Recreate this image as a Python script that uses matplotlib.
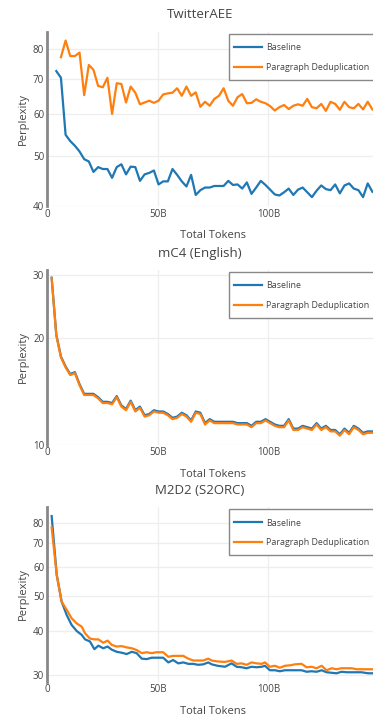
import matplotlib
matplotlib.use("Agg")
import matplotlib.pyplot as plt
from matplotlib.patches import Rectangle
from matplotlib.ticker import FixedLocator, NullLocator, FuncFormatter

plt.rcParams['font.family'] = ['Open Sans', 'DejaVu Sans']

# ---------------- data ----------------
tokens = [2.1, 4.2, 6.3, 8.4, 10.5, 12.6, 14.7, 16.8, 18.9, 21.0,
          23.1, 25.2, 27.3, 29.4, 31.5, 33.6, 35.7, 37.8, 39.9, 42.0,
          44.1, 46.2, 48.3, 50.4, 52.5, 54.6, 56.7, 58.8, 60.9, 63.0,
          65.1, 67.2, 69.3, 71.4, 73.5, 75.6, 77.7, 79.8, 81.9, 84.0,
          86.1, 88.2, 90.3, 92.4, 94.5, 96.6, 98.7, 100.8, 102.9, 105.0,
          107.1, 109.2, 111.3, 113.4, 115.5, 117.6, 119.7, 121.8, 123.9, 126.0,
          128.1, 130.2, 132.3, 134.4, 136.5, 138.6, 140.7, 142.8, 144.9, 147.0]

twitter_baseline = [72.6, 70.5, 54.8, 53.3, 52.2, 50.9, 49.2, 48.7, 46.5, 47.5,
                    47.1, 47.1, 45.3, 47.5, 48.1, 46.0, 47.6, 47.5, 44.7, 46.0,
                    46.3, 46.8, 44.0, 44.6, 44.6, 47.1, 45.9, 44.6, 43.6, 45.9,
                    42.0, 42.9, 43.4, 43.4, 43.7, 43.7, 43.7, 44.7, 43.9, 44.0,
                    43.2, 44.4, 42.2, 43.4, 44.7, 43.9, 43.0, 42.1, 41.9, 42.5,
                    43.2, 42.0, 43.0, 43.4, 42.5, 41.6, 42.8, 43.8, 43.1, 42.9,
                    44.0, 42.3, 43.8, 44.2, 43.2, 42.9, 41.6, 44.2, 42.6]
twitter_dedup = [77.2, 83.1, 77.6, 77.6, 78.8, 65.3, 74.6, 73.0, 68.0, 67.6,
                 70.5, 60.1, 68.8, 68.6, 63.2, 67.8, 66.0, 62.7, 63.2, 63.7,
                 63.1, 63.7, 65.5, 65.8, 66.0, 67.3, 65.1, 67.8, 65.1, 66.1,
                 62.0, 63.4, 62.3, 64.2, 65.1, 67.3, 63.7, 62.3, 64.7, 65.6,
                 63.0, 63.1, 64.1, 63.4, 63.0, 62.2, 61.0, 61.9, 62.5, 61.4,
                 62.3, 62.7, 62.3, 64.2, 61.9, 61.6, 62.8, 60.9, 63.4, 62.8,
                 61.2, 63.4, 61.9, 61.6, 62.8, 61.3, 63.4, 61.3]

mc4_baseline = [29.5, 20.4, 17.7, 16.6, 15.8, 16.0, 14.8, 13.9, 13.9, 13.9,
                13.6, 13.2, 13.2, 13.1, 13.7, 12.9, 12.6, 13.3, 12.5, 12.8,
                12.1, 12.2, 12.5, 12.4, 12.4, 12.2, 11.9, 12.0, 12.3, 12.1,
                11.7, 12.4, 12.3, 11.5, 11.8, 11.6, 11.6, 11.6, 11.6, 11.6,
                11.5, 11.5, 11.5, 11.3, 11.6, 11.6, 11.8, 11.6, 11.4, 11.3,
                11.3, 11.8, 11.1, 11.1, 11.3, 11.2, 11.1, 11.5, 11.1, 11.3,
                11.0, 11.0, 10.7, 11.1, 10.8, 11.3, 11.1, 10.8, 10.9, 10.9]
mc4_dedup = [29.4, 20.3, 17.6, 16.5, 15.7, 15.9, 14.7, 13.8, 13.8, 13.8,
             13.5, 13.1, 13.1, 13.0, 13.6, 12.8, 12.5, 13.2, 12.4, 12.7,
             12.0, 12.1, 12.4, 12.3, 12.3, 12.1, 11.8, 11.9, 12.2, 12.0,
             11.6, 12.3, 12.2, 11.4, 11.7, 11.5, 11.5, 11.5, 11.5, 11.5,
             11.4, 11.4, 11.4, 11.2, 11.5, 11.5, 11.7, 11.5, 11.3, 11.2,
             11.2, 11.7, 11.0, 11.0, 11.2, 11.1, 11.0, 11.4, 11.0, 11.2,
             10.9, 10.9, 10.6, 11.0, 10.7, 11.2, 11.0, 10.7, 10.8, 10.8]

m2d2_tokens = [2.1, 4.4, 6.6, 8.9, 11.1, 13.4, 15.7, 17.2, 19.4, 21.4,
               23.2, 25.4, 27.4, 29.2, 31.5, 33.7, 36.0, 38.3, 40.5, 42.8,
               45.0, 47.3, 49.5, 52.5, 54.8, 57.0, 59.3, 61.6, 63.8, 66.1,
               68.3, 70.6, 72.9, 74.4, 77.1, 80.4, 83.4, 85.7, 87.9, 90.2,
               92.4, 94.7, 97.0, 98.5, 100.7, 103.0, 105.2, 107.5, 109.8, 112.0,
               115.0, 117.3, 119.5, 121.8, 124.1, 126.3, 128.6, 130.8, 133.1, 135.4,
               137.6, 139.9, 142.1, 145.1, 147.0]
m2d2_baseline = [83.5, 57.2, 48.2, 44.2, 41.5, 39.9, 38.9, 37.8, 37.3, 35.5,
                 36.3, 35.7, 36.1, 35.4, 34.9, 34.7, 34.4, 34.9, 34.6, 33.4,
                 33.3, 33.6, 33.6, 33.6, 32.6, 33.1, 32.4, 32.6, 32.3, 32.3,
                 32.1, 32.2, 32.6, 32.2, 31.9, 31.7, 32.4, 31.7, 31.6, 31.4,
                 31.7, 31.6, 31.7, 31.9, 31.0, 31.0, 30.8, 31.0, 31.0, 31.0,
                 31.0, 30.7, 30.8, 30.7, 31.0, 30.6, 30.5, 30.4, 30.7, 30.6,
                 30.6, 30.6, 30.6, 30.4, 30.4]
m2d2_dedup = [77.6, 57.2, 48.2, 45.7, 43.3, 41.9, 41.0, 39.3, 38.0, 37.8,
              37.8, 37.0, 37.5, 36.5, 36.1, 36.2, 35.9, 35.7, 35.3, 34.6,
              34.8, 34.6, 34.8, 34.8, 33.8, 34.0, 34.0, 34.0, 33.4, 33.0,
              33.0, 33.0, 33.4, 33.0, 32.8, 32.7, 33.0, 32.3, 32.4, 32.1,
              32.6, 32.4, 32.3, 32.6, 31.7, 31.9, 31.5, 31.9, 32.0, 32.2,
              32.3, 31.6, 31.7, 31.4, 31.9, 31.0, 31.4, 31.2, 31.4, 31.4,
              31.4, 31.2, 31.2, 31.2, 31.2]

titles = ["TwitterAEE", "mC4 (English)", "M2D2 (S2ORC)"]
series_names = ["Baseline", "Paragraph Deduplication"]
x_ticks = [0, 50, 100]
x_ticklabels = ["0", "50B", "100B"]
y_ticks = [[40, 50, 60, 70, 80], [10, 20, 30], [30, 40, 50, 60, 70, 80]]
y_ranges = [(40, 86.3), (10, 31.0), (28.8, 88.5)]

# ---------------- layout ----------------
W, H = 373, 717
fig = plt.figure(figsize=(W / 100, H / 100), dpi=100)
BLUE, ORANGE = '#1f77b4', '#ff7f0e'
TXT = '#444444'

left_px, right_px = 47, 379
panels_px = [(32, 206), (270, 444.7), (507, 681.7)]
title_y_px = [15, 253, 491]

data = [
    ((tokens[1:], twitter_baseline), (tokens[2:], twitter_dedup)),
    ((tokens, mc4_baseline), (tokens, mc4_dedup)),
    ((m2d2_tokens, m2d2_baseline), (m2d2_tokens, m2d2_dedup)),
]

for k in range(3):
    top, bot = panels_px[k]
    hpx = bot - top
    wpx = right_px - left_px
    ax = fig.add_axes([left_px / W, 1 - bot / H, wpx / W, hpx / H])
    (xb, yb), (xd, yd) = data[k]
    ax.plot(xb, yb, color=BLUE, lw=1.6, label=series_names[0], zorder=3)
    ax.plot(xd, yd, color=ORANGE, lw=1.6, label=series_names[1], zorder=4)
    ax.set_yscale('log')
    ax.set_xlim(0, 150)
    ax.set_ylim(*y_ranges[k])
    ax.yaxis.set_major_locator(FixedLocator(y_ticks[k]))
    ax.yaxis.set_minor_locator(NullLocator())
    ax.yaxis.set_major_formatter(FuncFormatter(lambda v, p: f"{v:g}"))
    ax.set_xticks(x_ticks)
    ax.set_xticklabels(x_ticklabels)
    for s in ax.spines.values():
        s.set_visible(False)
    ax.tick_params(length=0, labelsize=7.0, colors=TXT, pad=2)
    ax.grid(True, color='#eeeeee', lw=0.9, zorder=0)
    ax.axvline(0, color='#888888', lw=2.0, zorder=5, clip_on=False)
    ax.set_xlabel("Total Tokens", fontsize=8.0, color=TXT, labelpad=7.4)
    ax.set_ylabel("Perplexity", fontsize=8.0, color=TXT, labelpad=3)

    # legend frame drawn as a box in axes pixels
    box_left = (228.5 - left_px) / wpx
    box_top = 1 - 1.5 / hpx
    box_h = 46.0 / hpx
    ax.add_patch(Rectangle((box_left, box_top - box_h), 1.2, box_h,
                           transform=ax.transAxes, facecolor='white',
                           edgecolor='#888888', lw=1.0, zorder=6, clip_on=False))
    leg = ax.legend(loc='upper left',
                    bbox_to_anchor=((234 - left_px) / wpx, 1 - 11.5 / hpx),
                    fontsize=6.4, frameon=False, borderaxespad=0, borderpad=0,
                    handlelength=3.1, handletextpad=0.5, labelspacing=1.2)
    leg.set_zorder(7)
    for t in leg.get_texts():
        t.set_color(TXT)
    fig.text(200 / W, 1 - title_y_px[k] / H, titles[k], ha='center', va='center',
             fontsize=9.5, color=TXT)

fig.savefig("out.png", dpi=100)
